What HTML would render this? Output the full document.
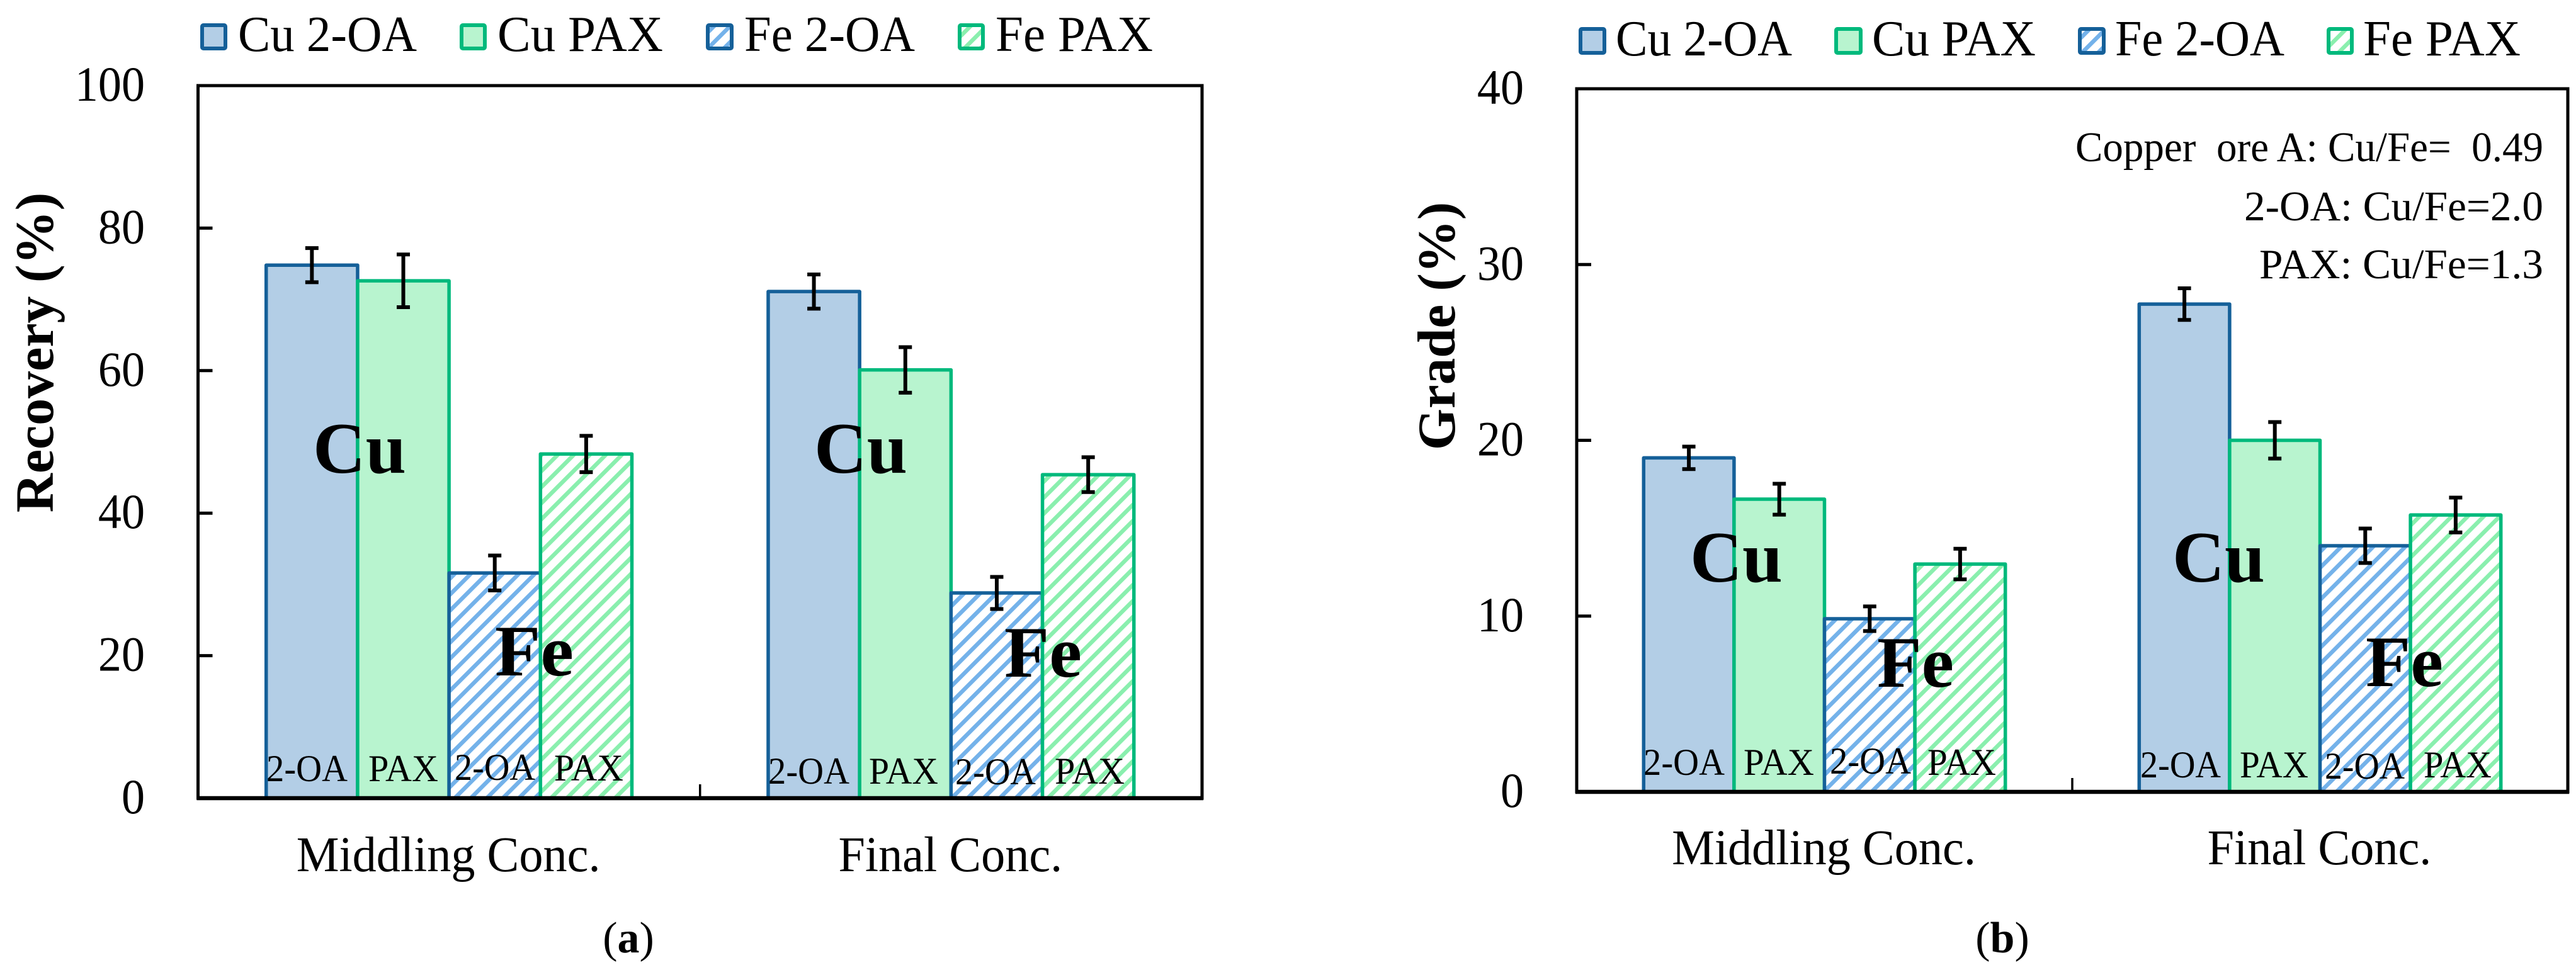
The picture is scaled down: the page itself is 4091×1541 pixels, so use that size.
<!DOCTYPE html>
<html lang="en">
<head>
<meta charset="utf-8">
<title>Recovery and grade of Cu and Fe with 2-OA and PAX</title>
<style>
  html, body { margin: 0; padding: 0; background: #fff; }
  svg { display: block; }
  text { font-family: "Liberation Serif", serif; fill: #000; white-space: pre; }
  .legend { font-size: 81px; }
  .inner { font-size: 60px; }
  .big { font-size: 115px; font-weight: bold; }
  .note { font-size: 67px; }
  .ytitle { font-size: 86px; font-weight: bold; }
  .tick { font-size: 78px; }
  .cat { font-size: 79px; }
  .cap { font-size: 70px; }
</style>
</head>
<body>
<svg id="figure" xmlns="http://www.w3.org/2000/svg" width="4091" height="1541" viewBox="0 0 4091 1541">
  <defs>
    <pattern id="hatch-blue" patternUnits="userSpaceOnUse" width="18" height="18" patternTransform="rotate(45)">
      <rect width="18" height="18" fill="#fff"/>
      <rect width="6.5" height="18" fill="#74b2ea"/>
    </pattern>
    <pattern id="hatch-green" patternUnits="userSpaceOnUse" width="18" height="18" patternTransform="rotate(45)">
      <rect width="18" height="18" fill="#fff"/>
      <rect width="6.5" height="18" fill="#8aefae"/>
    </pattern>
  </defs>
  <rect width="4091" height="1541" fill="#fff"/>

  <g id="panel-a">
    <g id="a-bars"></g>
    <g id="a-axes"></g>
    <g id="a-errors"></g>
    <text class="ytitle" transform="translate(84,560) rotate(-90)" text-anchor="middle">Recovery (%)</text>

    <g>
      <g>
        <rect x="321" y="40" width="37" height="37" rx="2" fill="#b3cee6" stroke="#156099" stroke-width="6"/>
        <text class="legend" x="378" y="81" textLength="284" lengthAdjust="spacingAndGlyphs">Cu 2-OA</text>
      </g>
      <g>
        <rect x="733" y="40" width="37" height="37" rx="2" fill="#b8f4cf" stroke="#00b97c" stroke-width="6"/>
        <text class="legend" x="790" y="81" textLength="263" lengthAdjust="spacingAndGlyphs">Cu PAX</text>
      </g>
      <g>
        <rect x="1124" y="40" width="38" height="37" rx="2" fill="url(#hatch-blue)" stroke="#156099" stroke-width="6"/>
        <text class="legend" x="1182" y="81" textLength="271" lengthAdjust="spacingAndGlyphs">Fe 2-OA</text>
      </g>
      <g>
        <rect x="1524" y="40" width="37" height="37" rx="2" fill="url(#hatch-green)" stroke="#00b97c" stroke-width="6"/>
        <text class="legend" x="1581" y="81" textLength="250" lengthAdjust="spacingAndGlyphs">Fe PAX</text>
      </g>
    </g>

    <g>
      <text class="inner" x="423" y="1241" textLength="129" lengthAdjust="spacingAndGlyphs">2-OA</text>
      <text class="inner" x="585" y="1241" textLength="111" lengthAdjust="spacingAndGlyphs">PAX</text>
      <text class="inner" x="722" y="1239" textLength="128" lengthAdjust="spacingAndGlyphs">2-OA</text>
      <text class="inner" x="880" y="1240" textLength="110" lengthAdjust="spacingAndGlyphs">PAX</text>
      <text class="inner" x="1220" y="1245" textLength="129" lengthAdjust="spacingAndGlyphs">2-OA</text>
      <text class="inner" x="1380" y="1245" textLength="110" lengthAdjust="spacingAndGlyphs">PAX</text>
      <text class="inner" x="1517" y="1246" textLength="128" lengthAdjust="spacingAndGlyphs">2-OA</text>
      <text class="inner" x="1675" y="1245" textLength="111" lengthAdjust="spacingAndGlyphs">PAX</text>
      <text class="big" x="497" y="751" textLength="148" lengthAdjust="spacingAndGlyphs">Cu</text>
      <text class="big" x="1293" y="751" textLength="148" lengthAdjust="spacingAndGlyphs">Cu</text>
      <text class="big" x="786" y="1073" textLength="125" lengthAdjust="spacingAndGlyphs">Fe</text>
      <text class="big" x="1595" y="1075" textLength="123" lengthAdjust="spacingAndGlyphs">Fe</text>
    </g>
    <text class="cap" x="998" y="1513" text-anchor="middle">(<tspan font-weight="bold">a</tspan>)</text>
  </g>

  <g id="panel-b">
    <g id="b-bars"></g>
    <g id="b-axes"></g>
    <g id="b-errors"></g>
    <text class="ytitle" transform="translate(2310,518) rotate(-90)" text-anchor="middle" style="font-size:85px">Grade (%)</text>

    <g>
      <g>
        <rect x="2510" y="46" width="38" height="38" rx="2" fill="#b3cee6" stroke="#156099" stroke-width="6"/>
        <text class="legend" x="2566" y="88" textLength="280" lengthAdjust="spacingAndGlyphs">Cu 2-OA</text>
      </g>
      <g>
        <rect x="2916" y="46" width="39" height="38" rx="2" fill="#b8f4cf" stroke="#00b97c" stroke-width="6"/>
        <text class="legend" x="2973" y="88" textLength="260" lengthAdjust="spacingAndGlyphs">Cu PAX</text>
      </g>
      <g>
        <rect x="3303" y="46" width="38" height="38" rx="2" fill="url(#hatch-blue)" stroke="#156099" stroke-width="6"/>
        <text class="legend" x="3359" y="88" textLength="269" lengthAdjust="spacingAndGlyphs">Fe 2-OA</text>
      </g>
      <g>
        <rect x="3698" y="46" width="37" height="38" rx="2" fill="url(#hatch-green)" stroke="#00b97c" stroke-width="6"/>
        <text class="legend" x="3753" y="88" textLength="250" lengthAdjust="spacingAndGlyphs">Fe PAX</text>
      </g>
    </g>

    <g>
      <text class="note" x="3296" y="256" textLength="743" lengthAdjust="spacingAndGlyphs">Copper  ore A: Cu/Fe=  0.49</text>
      <text class="note" x="3564" y="350" textLength="475" lengthAdjust="spacingAndGlyphs">2-OA: Cu/Fe=2.0</text>
      <text class="note" x="3588" y="442" textLength="451" lengthAdjust="spacingAndGlyphs">PAX: Cu/Fe=1.3</text>
    </g>

    <g>
      <text class="inner" x="2610" y="1231" textLength="129" lengthAdjust="spacingAndGlyphs">2-OA</text>
      <text class="inner" x="2769" y="1231" textLength="112" lengthAdjust="spacingAndGlyphs">PAX</text>
      <text class="inner" x="2906" y="1229" textLength="129" lengthAdjust="spacingAndGlyphs">2-OA</text>
      <text class="inner" x="3061" y="1231" textLength="109" lengthAdjust="spacingAndGlyphs">PAX</text>
      <text class="inner" x="3399" y="1235" textLength="128" lengthAdjust="spacingAndGlyphs">2-OA</text>
      <text class="inner" x="3557" y="1235" textLength="109" lengthAdjust="spacingAndGlyphs">PAX</text>
      <text class="inner" x="3692" y="1237" textLength="127" lengthAdjust="spacingAndGlyphs">2-OA</text>
      <text class="inner" x="3849" y="1235" textLength="108" lengthAdjust="spacingAndGlyphs">PAX</text>
      <text class="big" x="2684" y="924" textLength="147" lengthAdjust="spacingAndGlyphs">Cu</text>
      <text class="big" x="3450" y="924" textLength="147" lengthAdjust="spacingAndGlyphs">Cu</text>
      <text class="big" x="2981" y="1091" textLength="122" lengthAdjust="spacingAndGlyphs">Fe</text>
      <text class="big" x="3757" y="1090" textLength="123" lengthAdjust="spacingAndGlyphs">Fe</text>
    </g>
    <text class="cap" x="3180" y="1513" text-anchor="middle">(<tspan font-weight="bold">b</tspan>)</text>
  </g>
</svg>

<script>
// ----- chart data -----
const categories = ["Middling Conc.", "Final Conc."];
const seriesNames = ["Cu 2-OA", "Cu PAX", "Fe 2-OA", "Fe PAX"];

const recoveryTicks = [0, 20, 40, 60, 80, 100];
const recoveryCu2oa = [74.8, 71.1];
const recoveryCuPax = [72.6, 60.1];
const recoveryFe2oa = [31.6, 28.8];
const recoveryFePax = [48.3, 45.4];
const recoveryErrCu2oa = [2.4, 2.4];
const recoveryErrCuPax = [3.7, 3.2];
const recoveryErrFe2oa = [2.45, 2.25];
const recoveryErrFePax = [2.55, 2.45];

const gradeTicks = [0, 10, 20, 30, 40];
const gradeCu2oa = [19.0, 27.75];
const gradeCuPax = [16.65, 20.0];
const gradeFe2oa = [9.85, 14.0];
const gradeFePax = [12.96, 15.75];
const gradeErrCu2oa = [0.64, 0.9];
const gradeErrCuPax = [0.88, 1.04];
const gradeErrFe2oa = [0.7, 0.98];
const gradeErrFePax = [0.87, 0.99];

// ----- drawing -----
const NS = "http://www.w3.org/2000/svg";
const BLUE = "#156099";
const GREEN = "#00b97c";
const seriesFill = ["#b3cee6", "#b8f4cf", "url(#hatch-blue)", "url(#hatch-green)"];
const seriesStroke = [BLUE, GREEN, BLUE, GREEN];
const seriesKeys = ["cu-2oa", "cu-pax", "fe-2oa", "fe-pax"];

function make(tag, attrs, parent, txt) {
  const el = document.createElementNS(NS, tag);
  for (const k in attrs) el.setAttribute(k, attrs[k]);
  if (txt !== undefined) el.textContent = txt;
  parent.appendChild(el);
  return el;
}

function squeeze(el, factor) {
  const natural = el.getComputedTextLength();
  el.setAttribute('textLength', natural * factor);
  el.setAttribute('lengthAdjust', 'spacingAndGlyphs');
}

function drawPanel(cfg, values, errors, ticks) {
  const barsG = document.getElementById(cfg.id + "-bars");
  const axesG = document.getElementById(cfg.id + "-axes");
  const errG = document.getElementById(cfg.id + "-errors");
  const yMax = ticks[ticks.length - 1];
  const yMin = ticks[0];
  const y = v => cfg.bottom - (v - yMin) / (yMax - yMin) * (cfg.bottom - cfg.top);
  const band = (cfg.right - cfg.left) / categories.length;
  const groupCenter = i => cfg.left + band * (i + 0.5);
  const barX = (i, s) => groupCenter(i) + (s - values.length / 2) * cfg.barWidth;

  categories.forEach(function (cat, i) {
    values.forEach(function (series, s) {
      const bar = make("rect", {
        x: barX(i, s), y: y(series[i]),
        width: cfg.barWidth, height: y(yMin) - y(series[i]),
        fill: seriesFill[s], stroke: seriesStroke[s],
        "stroke-width": 5.5, "stroke-linejoin": "round"
      }, barsG);
      
      
    });
  });

  categories.forEach(function (cat, i) {
    values.forEach(function (series, s) {
      const cx = barX(i, s) + cfg.barWidth / 2;
      const hi = y(series[i] + errors[s][i]);
      const lo = y(series[i] - errors[s][i]);
      const stem = "M" + cx + " " + hi + "V" + lo;
      const caps = "M" + (cx - 10.5) + " " + hi + "H" + (cx + 10.5) + "M" + (cx - 10.5) + " " + lo + "H" + (cx + 10.5);
      const err = make("path", { d: stem + caps, stroke: "#000", "stroke-width": 6, fill: "none" }, errG);
      
      
    });
  });

  const frame = make("rect", {
    x: cfg.left, y: cfg.top, width: cfg.right - cfg.left, height: cfg.bottom - cfg.top,
    fill: "none", stroke: "#000", "stroke-width": 5
  }, axesG);
  
  

  const base = make("line", {
    x1: cfg.left - 2, x2: cfg.right + 2, y1: cfg.bottom, y2: cfg.bottom,
    stroke: "#000", "stroke-width": 6.5
  }, axesG);
  
  

  const divider = make("line", {
    x1: cfg.left + band, x2: cfg.left + band, y1: cfg.bottom, y2: cfg.bottom - 22,
    stroke: "#000", "stroke-width": 3.5
  }, axesG);
  
  

  ticks.forEach(function (t) {
    if (t !== yMin && t !== yMax) {
      const mark = make("line", {
        x1: cfg.left, x2: cfg.left + 23, y1: y(t), y2: y(t),
        stroke: "#000", "stroke-width": 5
      }, axesG);
      
      
    }
    const label = make("text", {
      x: cfg.tickX, y: y(t) + 24, "text-anchor": "end", "class": "tick"
    }, axesG, String(t));
    
    
    squeeze(label, 0.95);
  });

  categories.forEach(function (cat, i) {
    const label = make("text", {
      x: groupCenter(i) - 1, y: cfg.catY, "text-anchor": "middle", "class": "cat"
    }, axesG, cat);
    
    
    squeeze(label, 0.965);
  });
}

drawPanel(
  { id: "a", left: 314.5, right: 1909, top: 136, bottom: 1268, barWidth: 145.2, tickX: 230, catY: 1384 },
  [recoveryCu2oa, recoveryCuPax, recoveryFe2oa, recoveryFePax],
  [recoveryErrCu2oa, recoveryErrCuPax, recoveryErrFe2oa, recoveryErrFePax],
  recoveryTicks
);
drawPanel(
  { id: "b", left: 2504, right: 4078, top: 141, bottom: 1258, barWidth: 143.6, tickX: 2420, catY: 1373 },
  [gradeCu2oa, gradeCuPax, gradeFe2oa, gradeFePax],
  [gradeErrCu2oa, gradeErrCuPax, gradeErrFe2oa, gradeErrFePax],
  gradeTicks
);
</script>
</body>
</html>
